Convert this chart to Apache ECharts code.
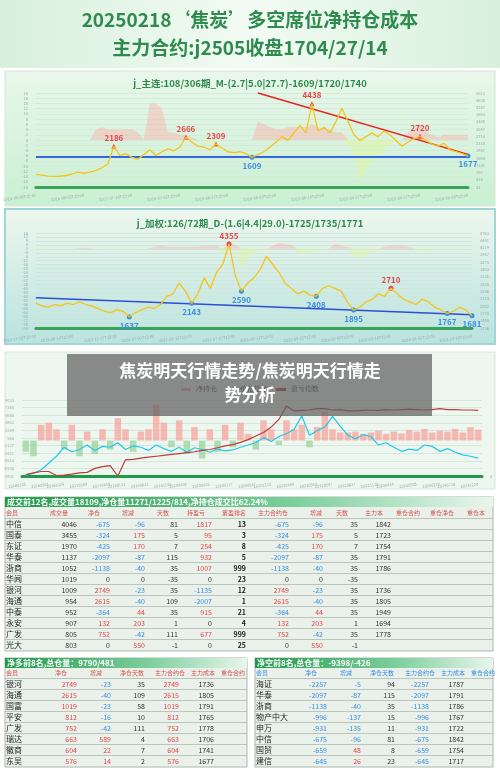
<!DOCTYPE html>
<html><head><meta charset="utf-8">
<script src="https://cdn.jsdelivr.net/npm/echarts@6/dist/echarts.min.js"></script>
<style>html,body{margin:0;padding:0;background:#fff}#c{width:500px;height:772px}</style>
</head><body><div id="c"></div>
<script>
// ---------- data ----------
const titleLines = ["20250218‘焦炭’多空席位净持仓成本", "主力合约:j2505收盘1704/27/14"];
const c1Title = "j_主连:108/306期_M-(2.7|5.0|27.7)-1609/1720/1740";
const c1Dates = ["2015-09-28T15:30","2016-08-03T15:00","2017-07-10T15:30","2018-07-02T15:00","2019-06-17T15:00","2020-05-29T15:30","2021-05-14T15:00","2022-04-27T15:00","2023-04-17T15:00","2024-03-28T15:30"];
const c1Price = [700,660,610,590,600,640,720,820,760,820,900,1050,1250,2186,1700,1800,1600,1500,1750,2000,1700,1900,2050,1950,2150,2666,2400,2200,2150,2000,2309,2100,1900,1850,1900,1800,1609,1750,1900,2150,2400,2700,2500,2900,3300,2900,4438,3000,3200,2900,3500,4200,3500,2800,2500,2700,2900,2700,3000,2800,2500,2200,2400,2600,2720,2500,2300,2200,2350,2000,1900,1800,1677];
const c1Net = [0,0,0,0,0,0,0,0,0,0,4,5,4,4,4,4,4,3,0,14,14,12,3,3,2,2,1,0,-1,-1,-1,0,0,0,0,0,0,7,6,5,4,4,5,5,5,5,6,5,4,4,3,3,-2,-6,-16,-12,-8,-6,-4,-2,-1,0,3,4,6,3,2,1,2,2,2,2,2];
const c1Highs = [[13,2186],[25,2666],[30,2309],[46,4438],[64,2720]];
const c1Lows = [[36,1609],[72,1677]];

const c2Title = "j_加权:126/72期_D-(1.6|4.4|29.0)-1725/1735/1771";
const c2Dates = ["2018-11-02T15:00","2019-06-10T15:00","2019-12-17T15:00","2020-07-03T15:00","2021-01-12T15:00","2021-07-27T15:00","2022-02-11T15:00","2022-08-22T15:00","2023-03-09T15:00","2023-09-14T15:00","2024-04-02T15:00","2024-10-18T15:00"];
const c2Price = [2150,2050,2000,2100,2050,2150,2100,2200,2100,2050,1950,1850,1800,1900,1850,1637,1800,1900,2000,1950,2100,2400,2500,2900,2600,2143,2500,3100,2700,3300,3600,4355,3200,2590,2900,3100,3400,3900,3600,3300,2900,2700,2500,2600,2450,2408,2700,2800,2700,2600,2200,1895,2000,2200,2300,2500,2400,2710,2500,2300,2200,2100,2300,2200,2000,1900,1767,1850,2000,1900,1681];
const c2Net = [-1,-1,-1,0,0,0,0,1,1,0,0,-1,-1,-1,-1,-1,-1,0,0,2,3,2,2,2,2,2,2,3,3,3,-5,6,4,-20,-10,-4,-2,-1,3,6,5,4,-4,-5,-3,-2,-1,0,5,3,2,-8,-10,-6,-3,-2,2,3,3,3,2,-1,-2,-2,-1,-1,-1,-1,-1,-1,-1];
const c2Highs = [[31,4355],[57,2710]];
const c2Lows = [[15,1637],[25,2143],[33,2590],[45,2408],[51,1895],[66,1767],[70,1681]];
const c2Lower = [[0,2350],[70,1720]];
const c2Upper = [[26,4900],[70,1770]];

const c3Legend = ["净持仓","价格指数","盈亏指数"];
const c3Dates = ["20160325","20160801","20161028","20170309","20170818","20180111","20180612","20181106","20190402","20190823","20200117","20200617","20201112","20210408","20210910","20220207","20220627","20221116","20230414","20230905","20240219","20240726","20241220"];
const c3Net = [-2500,-3500,3500,4000,2500,-2000,3500,-3500,2000,-3000,2500,-2000,5000,2500,-2500,2000,2500,8000,4000,-1500,4500,-3000,3000,-4000,2500,-2500,3500,-1500,4000,1500,-2000,4500,2500,-1000,4500,2500,3500,-1500,3000,6500,2500,1800,1800,2000,1500,1800,2200,1500,2000,1600,2400,2000,2600,1800,2200,2000,2600,1800,3000,2400];
const c3PriceIdx = [-7700,-7300,-6500,-5000,-3500,-1500,-2500,-2000,-1000,-2200,-1300,-1500,-500,-2000,-1200,-1500,-2200,-1000,-1800,-2400,-1500,-2600,-1600,-2000,-2600,-1900,-2300,-2100,-1500,-1000,-500,700,-200,900,1500,2500,5500,1200,2200,3000,5400,3200,1200,400,1300,900,-1000,-500,-1500,-2400,-1900,-2200,-1000,-1300,-2400,-1800,-2600,-3200,-3500,-3900];
const c3ProfitIdx = [-7600,-7200,-6900,-6900,-7800,-7700,-7500,-7200,-7100,-6200,-5800,-5600,-7900,-4300,-4200,-3900,-3700,-3500,-3300,-3100,-2900,-2700,-2500,-2200,-2000,-1600,-1200,-900,-400,200,1000,1800,3000,4700,7700,6600,6700,6800,7100,7100,6800,6900,6600,6600,6700,6800,6700,6900,6800,6900,7000,6900,6800,6900,7100,6900,6900,6800,6800,6700];

const t1Title = "成交前12名,成交量18109,净仓量11271/1225/814,净持仓成交比62.24%";
const t1Head = ["会员","成交量","净仓","增减","天数","持盈亏","累盈排名","主力合约仓","增减","天数","主力本","重仓合约","重仓净仓","重仓本"];
const t1Members = ["中信","国泰","东证","华泰","浙商","华闻","银河","海通","中泰","永安","广发","光大"];
const t1Volume = [4046,3455,1970,1137,1052,1019,1009,954,952,907,805,803];
const t1Net = [-675,-324,-425,-2097,-1138,0,2749,2615,-364,132,752,0];
const t1Chg = [-96,175,170,-87,-40,0,-23,-40,44,203,-42,550];
const t1Days = [81,5,7,115,35,-35,35,109,35,1,111,-1];
const t1PnL = [1817,95,254,932,1007,0,-1135,-2007,915,0,677,0];
const t1Rank = [13,3,8,5,999,23,12,1,21,4,999,25];
const t1MainNet = [-675,-324,-425,-2097,-1138,0,2749,2615,-364,132,752,0];
const t1MainChg = [-96,175,170,-87,-40,0,-23,-40,44,203,-42,550];
const t1MainDays = [35,5,7,35,35,-35,35,35,35,1,35,-1];
const t1MainCost = [1842,1723,1754,1791,1786,null,1736,1805,1949,1694,1778,null];

const t2Title = "净多前8名,总仓量：9790/481";
const t2Head = ["会员","净仓","增减","净仓天数","主力合约仓","主力成本","重仓合约"];
const t2Members = ["银河","海通","国富","平安","广发","瑞达","徽商","东吴"];
const t2Net = [2749,2615,1019,812,752,663,604,576];
const t2Chg = [-23,-40,-23,-16,-42,589,22,14];
const t2Days = [35,109,58,10,111,4,7,2];
const t2Main = [2749,2615,1019,812,752,663,604,576];
const t2Cost = [1736,1805,1791,1765,1778,1706,1741,1677];

const t3Title = "净空前8名,总仓量：-9398/-426";
const t3Members = ["海证","华泰","浙商","物产中大","申万","中信","国贸","建信"];
const t3Net = [-2257,-2097,-1138,-996,-931,-675,-659,-645];
const t3Chg = [-5,-87,-40,-137,-135,-96,48,26];
const t3Days = [94,115,35,15,11,81,8,23];
const t3Main = [-2257,-2097,-1138,-996,-931,-675,-659,-645];
const t3Cost = [1787,1791,1786,1767,1722,1842,1754,1717];

const overlayText = ["焦炭明天行情走势/焦炭明天行情走","势分析"];

// ---------- helpers ----------
const FONT = '"Noto Sans CJK SC", sans-serif';
const RED = '#e8464a', BLUE = '#3a8ee6';
const idx = n => Array.from({length:n},(_,i)=>i);
function dateFmt(dates, n){
  const map = {};
  dates.forEach((d,k)=>{ map[Math.round(k*(n-1)/(dates.length-1))] = d; });
  return v => map[v] || '';
}
function dateInterval(dates,n){ const s=new Set(dates.map((d,k)=>Math.round(k*(n-1)/(dates.length-1)))); return i=>s.has(i); }
function numColor(v){ return v>0?RED:(v<0?BLUE:'#333'); }

const graphics = [];
graphics.push({type:'rect',shape:{x:0,y:0,width:500,height:68},style:{fill:new echarts.graphic.LinearGradient(0,0,1,0,[{offset:0,color:'#d8f0dc'},{offset:0.5,color:'#f2fbf3'},{offset:1,color:'#d8f0dc'}])},z:0});
titleLines.forEach((t,i)=>graphics.push({type:'text',x:250,y:20+i*28,style:{text:t,fill:'#2f8a4e',font:'bold 19px '+FONT,align:'center',verticalAlign:'middle'},z:2}));
graphics.push({type:'rect',shape:{x:5,y:71,width:490,height:135},style:{fill:new echarts.graphic.LinearGradient(0,0,0,1,[{offset:0,color:'#e9f7ea'},{offset:1,color:'#c9f0d2'}]),stroke:'#cfe8d4'},z:0});
graphics.push({type:'rect',shape:{x:5,y:209,width:490,height:135},style:{fill:new echarts.graphic.LinearGradient(0,0,0,1,[{offset:0,color:'#eef7ee'},{offset:1,color:'#b9e3df'}]),stroke:'#9fd6d8',lineWidth:2},z:0});
graphics.push({type:'rect',shape:{x:5,y:352,width:490,height:137},style:{fill:'#eef6f0',stroke:'#d7e8dc'},z:0});
graphics.push({type:'text',x:250,y:83,style:{text:c1Title,fill:'#2f8a4e',font:'bold 9.5px '+FONT,align:'center',verticalAlign:'middle'},z:2});
graphics.push({type:'text',x:250,y:223,style:{text:c2Title,fill:'#2f8a4e',font:'bold 9.5px '+FONT,align:'center',verticalAlign:'middle'},z:2});
graphics.push({type:'rect',shape:{x:67,y:354,width:365,height:62},style:{fill:'rgba(95,95,95,0.72)'},z:20});
overlayText.forEach((t,i)=>graphics.push({type:'text',x:250,y:371+i*24,style:{text:t,fill:'#fff',font:'bold 17px '+FONT,align:'center',verticalAlign:'middle'},z:21}));

function tableBox(x,y,w,h,title,titleColor){
  graphics.push({type:'rect',shape:{x:x,y:y,width:w,height:h},style:{fill:'#e9f1ea',stroke:'#aab8ad'},z:1});
  graphics.push({type:'rect',shape:{x:x,y:y,width:w,height:10},style:{fill:new echarts.graphic.LinearGradient(0,0,1,0,[{offset:0,color:titleColor},{offset:0.6,color:'#7fcf9e'},{offset:1,color:'#e9f6ec'}])},z:2});
  graphics.push({type:'text',x:x+2,y:y+5,style:{text:title,fill:'#fff',font:'bold 8px '+FONT,verticalAlign:'middle'},z:3});
}
function txt(x,y,t,color,align,bold,size){
  graphics.push({type:'text',x:x,y:y,style:{text:String(t),fill:color,font:(bold?'bold ':'')+(size||7)+'px '+FONT,align:align||'right',verticalAlign:'middle'},z:4});
}
tableBox(5,497,488,154,t1Title,'#1f9a4a');
const h1x=[6,50,88,122,157,187,222,258,310,336,365,396,430,467];
t1Head.forEach((h,i)=>txt(h1x[i],513,h,'#d9534f','left',false,6));
const r1x=[77,110,145,178,212,246,289,323,358,391];
t1Members.forEach((m,i)=>{
  const y=524+11*i;
  graphics.push({type:'line',shape:{x1:5,y1:y-5.5,x2:493,y2:y-5.5},style:{stroke:'#9aa89e',lineWidth:0.6},z:2});
  txt(6,y,m,'#222','left',false,8);
  txt(r1x[0],y,t1Volume[i],'#333');
  txt(r1x[1],y,t1Net[i],numColor(t1Net[i]));
  txt(r1x[2],y,t1Chg[i],numColor(t1Chg[i]));
  txt(r1x[3],y,t1Days[i],'#333');
  txt(r1x[4],y,t1PnL[i],numColor(t1PnL[i]));
  txt(r1x[5],y,t1Rank[i],'#222','right',true);
  txt(r1x[6],y,t1MainNet[i],numColor(t1MainNet[i]));
  txt(r1x[7],y,t1MainChg[i],numColor(t1MainChg[i]));
  txt(r1x[8],y,t1MainDays[i],'#333');
  if(t1MainCost[i]!==null) txt(r1x[9],y,t1MainCost[i],'#333');
});
function smallTable(x0,w,title,head,headColor,titleColor,members,net,chg,days,main,cost){
  tableBox(x0,658,w,109,title,titleColor);
  const hx=[1,50,85,115,150,186,216];
  head.forEach((h,i)=>txt(x0+hx[i],673,h,headColor,'left',false,6));
  const rx=[72,106,140,174,209];
  members.forEach((m,i)=>{
    const y=684+11*i;
    graphics.push({type:'line',shape:{x1:x0,y1:y-5.5,x2:x0+w,y2:y-5.5},style:{stroke:'#9aa89e',lineWidth:0.6},z:2});
    txt(x0+1,y,m,'#222','left',false,8);
    txt(x0+rx[0],y,net[i],numColor(net[i]));
    txt(x0+rx[1],y,chg[i],numColor(chg[i]));
    txt(x0+rx[2],y,days[i],'#333');
    txt(x0+rx[3],y,main[i],numColor(main[i]));
    txt(x0+rx[4],y,cost[i],'#333');
  });
}
smallTable(5,242,t2Title,t2Head,'#d9534f','#1f9a4a',t2Members,t2Net,t2Chg,t2Days,t2Main,t2Cost);
smallTable(255,238,t3Title,t2Head,'#3a8ee6','#1f9a4a',t3Members,t3Net,t3Chg,t3Days,t3Main,t3Cost);

// ---------- chart ----------
const axisLbl = {fontSize:4,color:'#9aa',fontFamily:FONT};
function priceSeries(xi,yi,data){return {type:'line',xAxisIndex:xi,yAxisIndex:yi,data:data,showSymbol:false,lineStyle:{color:'#f5c518',width:1.3},z:5};}
function netSeries(xi,yi,data,pos){return {type:'line',xAxisIndex:xi,yAxisIndex:yi,data:data.map(v=>pos?(v>0?v:0):(v<0?v:0)),showSymbol:false,lineStyle:{width:0},areaStyle:{color:pos?'rgba(255,170,170,0.6)':'rgba(225,245,160,0.7)',origin:0},z:2};}
function marks(list,color,pos,sym){
  return list.map(p=>({coord:p,value:p[1],symbol:sym,symbolSize:5,itemStyle:{color:color},label:{show:true,position:pos,color:color,fontSize:8,fontWeight:'bold',fontFamily:FONT,distance:2,formatter:String(p[1])}}));
}
const n1=c1Price.length,n2=c2Price.length,n3=c3PriceIdx.length;
function xAx(g,dates,n,gap,col){return {gridIndex:g,type:'category',data:idx(n),boundaryGap:gap,axisLine:{onZero:false,lineStyle:{color:col,width:3}},axisTick:{show:false},axisLabel:Object.assign({interval:dateInterval(dates,n),formatter:dateFmt(dates,n),rotate:8},axisLbl)};}
const option = {
  animation:false,
  graphic:graphics,
  legend:{data:[{name:'净持仓',icon:'rect'},{name:'价格指数',icon:'rect'},{name:'盈亏指数',icon:'rect'}],top:381,left:'center',itemWidth:10,itemHeight:3,textStyle:{fontSize:7,color:'#444'}},
  grid:[
    {left:28,right:32,top:93,height:94},
    {left:28,right:28,top:233,height:95},
    {left:22,right:18,top:400,height:76}
  ],
  xAxis:[xAx(0,c1Dates,n1,false,'#3aa35a'),xAx(1,c2Dates,n2,false,'#3aa35a'),xAx(2,c3Dates,n3,true,'#1f9a4a')],
  yAxis:[
    {gridIndex:0,min:-18,max:18,interval:2,axisLabel:axisLbl,splitLine:{lineStyle:{color:'#d6eadb'}},axisLine:{show:false},axisTick:{show:false}},
    {gridIndex:0,position:'right',min:31,max:5013,interval:383.23,axisLabel:Object.assign({formatter:v=>Math.round(v)},axisLbl),splitLine:{show:false},axisLine:{show:false},axisTick:{show:false}},
    {gridIndex:1,min:-80,max:16,interval:4,axisLabel:axisLbl,splitLine:{lineStyle:{color:'#cfe6dc'}},axisLine:{show:false},axisTick:{show:false}},
    {gridIndex:1,position:'right',min:1226,max:4763,interval:272.08,axisLabel:Object.assign({formatter:v=>Math.round(v)},axisLbl),splitLine:{show:false},axisLine:{show:false},axisTick:{show:false}},
    {gridIndex:2,min:-7901,max:9033,interval:1693.4,axisLabel:Object.assign({formatter:v=>Math.round(v)},axisLbl),splitLine:{lineStyle:{color:'#d3e8d8'}},axisLine:{show:false},axisTick:{show:false}},
    {gridIndex:2,position:'right',min:0,max:1,interval:1,axisLabel:Object.assign({formatter:v=>v===0?'0':''},axisLbl),splitLine:{show:false},axisLine:{show:false},axisTick:{show:false}}
  ],
  series:[
    netSeries(0,0,c1Net,true), netSeries(0,0,c1Net,false),
    Object.assign(priceSeries(0,1,c1Price),{
      markPoint:{data:marks(c1Highs,RED,'top','triangle').concat(marks(c1Lows,'#3a8ee6','bottom','circle'))},
      markLine:{symbol:'none',silent:true,label:{show:false},data:[
        {yAxis:1609,lineStyle:{color:'#3366e0',width:2,type:'solid'}},
        [{coord:[37,5013],lineStyle:{color:'#e62020',width:1.5,type:'solid'}},{coord:[72,1760]}]
      ]}
    }),
    netSeries(1,2,c2Net,true), netSeries(1,2,c2Net,false),
    Object.assign(priceSeries(1,3,c2Price),{
      markPoint:{data:marks(c2Highs,RED,'top','circle').concat(marks(c2Lows,'#3a8ee6','bottom','circle'))},
      markLine:{symbol:'none',silent:true,label:{show:false},data:[
        [{coord:c2Lower[0],lineStyle:{color:'#2a4fd8',width:1.5,type:'solid'}},{coord:c2Lower[1]}],
        [{coord:c2Upper[0],lineStyle:{color:'#e62020',width:1.5,type:'solid'}},{coord:c2Upper[1]}]
      ]}
    }),
    {name:'净持仓',type:'bar',xAxisIndex:2,yAxisIndex:4,barWidth:'85%',data:c3Net.map(v=>({value:v,itemStyle:{color:v>=0?'rgba(250,160,150,0.7)':'rgba(150,210,150,0.7)'}})),itemStyle:{color:'#f0a8a0'}},
    {name:'价格指数',type:'line',xAxisIndex:2,yAxisIndex:4,data:c3PriceIdx,showSymbol:false,lineStyle:{color:'#22c8e8',width:1.2},itemStyle:{color:'#22c8e8'},z:5},
    {name:'盈亏指数',type:'line',xAxisIndex:2,yAxisIndex:4,data:c3ProfitIdx,showSymbol:false,lineStyle:{color:'#c0393b',width:1.2},itemStyle:{color:'#c0393b'},z:5}
  ]
};
const chart = echarts.init(document.getElementById('c'));
chart.setOption(option);
</script></body></html>
